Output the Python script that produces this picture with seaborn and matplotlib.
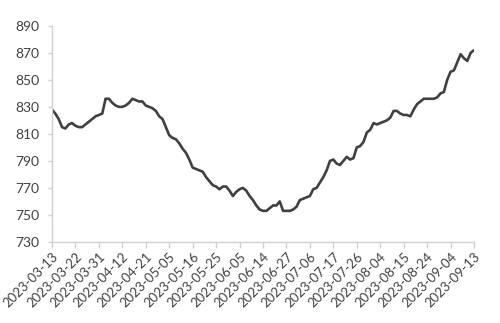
import matplotlib
matplotlib.use("Agg")
import matplotlib.pyplot as plt
import seaborn as sns
import pandas as pd

# Chinese trading-day calendar for the period (exchange holidays removed)
holidays = ["2023-04-05", "2023-05-01", "2023-05-02", "2023-05-03",
            "2023-06-22", "2023-06-23"]
dates = [d.strftime("%Y-%m-%d") for d in pd.bdate_range("2023-03-13", "2023-09-13")
         if d.strftime("%Y-%m-%d") not in holidays]

values = [828, 825, 821, 815, 814, 817, 818, 816, 815, 815,
          817, 819, 821, 823, 824, 825, 836, 836, 833, 831,
          830, 830, 831, 833, 836, 835, 834, 834, 831, 830,
          829, 827, 823, 821, 815, 809, 807, 806, 803, 799,
          796, 791, 785, 784, 783, 782, 778, 775, 772, 771,
          769, 771, 771, 768, 764, 767, 769, 770, 768, 764,
          761, 757, 754, 753, 753, 755, 757, 757, 760, 753,
          753, 753, 754, 756, 761, 762, 763, 764, 769, 770,
          774, 778, 783, 790, 791, 788, 787, 790, 793, 791,
          792, 800, 801, 804, 811, 813, 818, 817, 818, 819,
          820, 822, 827, 827, 825, 824, 824, 823, 828, 832,
          834, 836, 836, 836, 836, 837, 840, 841, 850, 856,
          857, 863, 869, 866, 864, 870, 872]

tick_labels = ["2023-03-13", "2023-03-22", "2023-03-31", "2023-04-12", "2023-04-21",
               "2023-05-05", "2023-05-16", "2023-05-25", "2023-06-05", "2023-06-14",
               "2023-06-27", "2023-07-06", "2023-07-17", "2023-07-26", "2023-08-04",
               "2023-08-15", "2023-08-24", "2023-09-04", "2023-09-13"]
y_ticks = [730, 750, 770, 790, 810, 830, 850, 870, 890]

n = min(len(dates), len(values))
df = pd.DataFrame({"date": dates[:n], "value": values[:n]})
df["idx"] = range(n)

sns.set_theme(style="white")
plt.rcParams["font.family"] = ["Lato", "DejaVu Sans"]

fig = plt.figure(figsize=(5, 3.23), dpi=100)
ax = fig.add_axes([0.104, 0.251, 0.844, 0.669])

sns.lineplot(data=df, x="idx", y="value", ax=ax, color="#404040",
             linewidth=1.9, sort=False)

date_to_idx = {d: i for i, d in enumerate(df["date"])}
tick_pos = [date_to_idx[t] for t in tick_labels if t in date_to_idx]
ax.set_xticks(tick_pos)
ax.set_xticklabels([t for t in tick_labels if t in date_to_idx], rotation=45,
                   ha="right", rotation_mode="anchor", fontsize=9.5, color="#404040")
ax.set_yticks(y_ticks)
ax.set_yticklabels([str(v) for v in y_ticks], fontsize=10, color="#404040")
ax.set_xlim(0, n - 1)
ax.set_ylim(730, 890)
ax.set_xlabel("")
ax.set_ylabel("")

for s in ["top", "right"]:
    ax.spines[s].set_visible(False)
for s in ["left", "bottom"]:
    ax.spines[s].set_color("#d0d0d0")
    ax.spines[s].set_linewidth(1.0)
ax.tick_params(axis="x", direction="out", length=4, color="#d0d0d0", width=1, pad=2,
               bottom=True)
ax.tick_params(axis="y", direction="out", length=3, color="#d0d0d0", width=1, pad=6,
               left=True)

fig.savefig("out.png", dpi=100)
